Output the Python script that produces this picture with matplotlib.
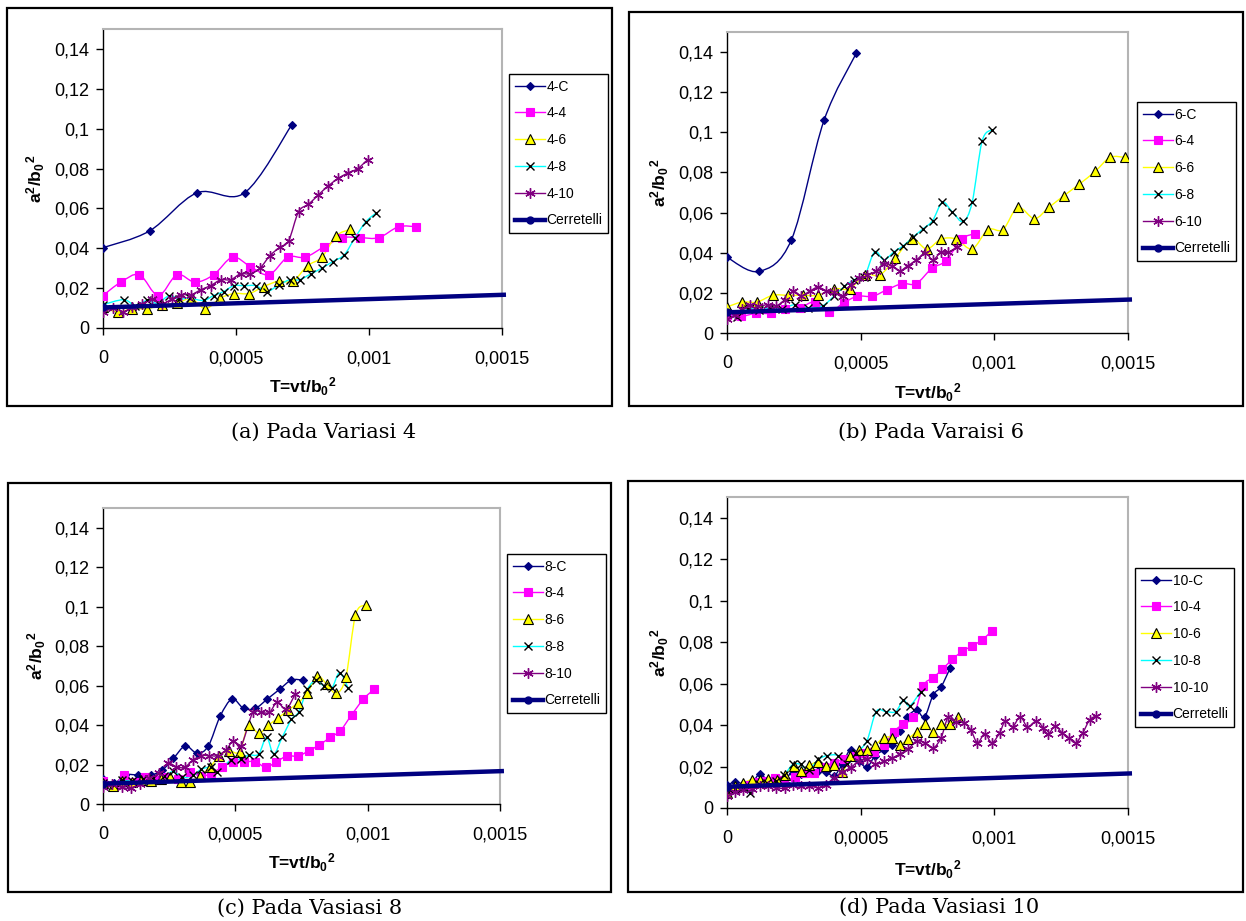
import matplotlib
matplotlib.use('Agg')
import matplotlib.pyplot as plt
from matplotlib.path import Path
from matplotlib.patches import PathPatch, Rectangle
from matplotlib.lines import Line2D

plt.rcParams['font.family'] = ['Liberation Sans', 'DejaVu Sans']
plt.rcParams['mathtext.fontset'] = 'custom'
plt.rcParams['mathtext.rm'] = 'Liberation Sans:bold'
plt.rcParams['mathtext.it'] = 'Liberation Sans:bold'
plt.rcParams['mathtext.bf'] = 'Liberation Sans:bold'

# ---- data (T = vt/b0^2, a^2/b0^2) ----
t_cer = [0, 0.0005, 0.001, 0.001515]
a_cer = [0.0103, 0.0124, 0.0145, 0.0167]

# variasi 4
t_4c = [0, 0.000175, 0.000353, 0.000532, 0.00071]
a_4c = [0.0403, 0.0487, 0.0678, 0.0678, 0.102]
t_44 = [0, 6.7e-5, 1.37e-4, 2.08e-4, 2.78e-4, 3.46e-4, 4.16e-4, 4.87e-4, 5.54e-4, 6.24e-4,
        6.94e-4, 7.6e-4, 8.32e-4, 9.0e-4, 9.68e-4, 1.037e-3, 1.111e-3, 1.178e-3]
a_44 = [0.0163, 0.023, 0.0267, 0.0163, 0.0267, 0.023, 0.0267, 0.0355, 0.0308, 0.0267,
        0.0355, 0.0355, 0.0408, 0.0453, 0.0453, 0.0453, 0.0508, 0.0508]
t_46 = [0, 5.6e-5, 1.1e-4, 1.66e-4, 2.2e-4, 2.78e-4, 3.32e-4, 3.85e-4, 4.41e-4, 4.94e-4,
        5.5e-4, 6.04e-4, 6.6e-4, 7.14e-4, 7.69e-4, 8.23e-4, 8.76e-4, 9.3e-4]
a_46 = [0.0105, 0.008, 0.0097, 0.0097, 0.0115, 0.0125, 0.0147, 0.0097, 0.015, 0.0173,
        0.0173, 0.0208, 0.0235, 0.0235, 0.0313, 0.0355, 0.0462, 0.0495]
t_48 = [0, 7.8e-5, 1.22e-4, 1.65e-4, 2.05e-4, 2.49e-4, 2.87e-4, 3.26e-4, 3.78e-4, 4.16e-4,
        4.54e-4, 4.91e-4, 5.31e-4, 5.75e-4, 6.16e-4, 6.6e-4, 7.02e-4, 7.39e-4, 7.82e-4,
        8.23e-4, 8.63e-4, 9.07e-4, 9.46e-4, 9.88e-4, 1.028e-3]
a_48 = [0.0117, 0.0142, 0.0112, 0.0138, 0.0125, 0.0162, 0.0145, 0.015, 0.0138, 0.0163,
        0.0183, 0.0212, 0.0212, 0.0212, 0.0183, 0.0215, 0.0242, 0.0242, 0.0272,
        0.03, 0.0333, 0.0367, 0.045, 0.0533, 0.0578]
t_410 = [0, 3.7e-5, 7.4e-5, 1.1e-4, 1.46e-4, 1.86e-4, 2.23e-4, 2.6e-4, 2.94e-4, 3.31e-4,
         3.68e-4, 4.05e-4, 4.43e-4, 4.8e-4, 5.17e-4, 5.52e-4, 5.9e-4, 6.27e-4, 6.64e-4,
         6.98e-4, 7.35e-4, 7.72e-4, 8.09e-4, 8.46e-4, 8.84e-4, 9.21e-4, 9.58e-4, 9.95e-4]
a_410 = [0.008, 0.010, 0.008, 0.0105, 0.0122, 0.0145, 0.0122, 0.0147, 0.0167, 0.0167,
         0.0192, 0.0213, 0.0242, 0.0242, 0.0272, 0.0272, 0.03, 0.0362, 0.0405,
         0.0438, 0.0583, 0.062, 0.0667, 0.0712, 0.075, 0.0778, 0.08, 0.0845]

# variasi 6
t_6c = [0, 0.00012, 0.000241, 0.000363, 0.000484]
a_6c = [0.0377, 0.0307, 0.0465, 0.106, 0.1395]
t_64 = [0, 5.2e-5, 1.09e-4, 1.63e-4, 2.16e-4, 2.72e-4, 3.28e-4, 3.81e-4, 4.36e-4, 4.88e-4,
        5.44e-4, 5.99e-4, 6.55e-4, 7.08e-4, 7.66e-4, 8.19e-4, 8.78e-4, 9.28e-4]
a_64 = [0.0088, 0.0083, 0.0098, 0.0098, 0.012, 0.0125, 0.0155, 0.0103, 0.015, 0.0183,
        0.0183, 0.0216, 0.0246, 0.0246, 0.0322, 0.036, 0.0468, 0.0495]
t_66 = [0, 5.6e-5, 1.12e-4, 1.71e-4, 2.27e-4, 2.85e-4, 3.41e-4, 4.0e-4, 4.59e-4, 5.15e-4,
        5.73e-4, 6.3e-4, 6.91e-4, 7.47e-4, 8.01e-4, 8.58e-4, 9.17e-4, 9.76e-4, 1.032e-3,
        1.088e-3, 1.15e-3, 1.204e-3, 1.26e-3, 1.318e-3, 1.377e-3, 1.433e-3, 1.489e-3]
a_66 = [0.013, 0.0154, 0.0154, 0.0188, 0.0188, 0.0188, 0.0188, 0.0221, 0.022, 0.029,
        0.029, 0.0374, 0.0468, 0.0419, 0.0468, 0.0468, 0.0419, 0.0515, 0.0515,
        0.0626, 0.057, 0.0626, 0.0684, 0.0742, 0.0805, 0.0875, 0.0875]
t_68 = [0, 3.7e-5, 8e-5, 1.2e-4, 1.6e-4, 2.05e-4, 2.53e-4, 3.03e-4, 3.58e-4, 4.02e-4,
        4.39e-4, 4.76e-4, 5.13e-4, 5.52e-4, 5.87e-4, 6.24e-4, 6.6e-4, 6.95e-4, 7.32e-4,
        7.69e-4, 8.06e-4, 8.43e-4, 8.83e-4, 9.17e-4, 9.54e-4, 9.9e-4]
a_68 = [0.01, 0.008, 0.012, 0.0115, 0.0125, 0.012, 0.0141, 0.0125, 0.0136, 0.0186,
        0.0232, 0.0266, 0.0279, 0.0404, 0.0365, 0.0404, 0.0435, 0.0477, 0.0518,
        0.056, 0.0651, 0.0603, 0.0556, 0.0651, 0.0955, 0.1013]
t_610 = [0, 3.1e-5, 5.6e-5, 8.7e-5, 1.17e-4, 1.52e-4, 1.85e-4, 2.16e-4, 2.47e-4, 2.78e-4,
         3.09e-4, 3.4e-4, 3.71e-4, 4.02e-4, 4.33e-4, 4.63e-4, 4.94e-4, 5.25e-4, 5.56e-4,
         5.87e-4, 6.18e-4, 6.46e-4, 6.76e-4, 7.07e-4, 7.42e-4, 7.7e-4, 8.0e-4, 8.28e-4, 8.59e-4]
a_610 = [0.007, 0.0091, 0.012, 0.0141, 0.0133, 0.0141, 0.0136, 0.0166, 0.0208, 0.0186,
         0.0208, 0.0228, 0.0211, 0.0203, 0.0183, 0.0241, 0.0274, 0.0291, 0.0307,
         0.0345, 0.0335, 0.031, 0.0335, 0.0362, 0.0398, 0.0365, 0.0402, 0.0402, 0.0428]

# variasi 8
t_8c = [0, 4.2e-5, 8.4e-5, 1.32e-4, 1.81e-4, 2.24e-4, 2.66e-4, 3.11e-4, 3.56e-4, 3.98e-4,
        4.43e-4, 4.88e-4, 5.31e-4, 5.76e-4, 6.21e-4, 6.67e-4, 7.12e-4, 7.55e-4]
a_8c = [0.0127, 0.0105, 0.0147, 0.0147, 0.0147, 0.0172, 0.0231, 0.0294, 0.0257, 0.0294,
        0.0446, 0.0532, 0.0485, 0.0485, 0.0532, 0.0581, 0.0628, 0.0628]
t_84 = [0, 4e-5, 8e-5, 1.2e-4, 1.6e-4, 2e-4, 2.4e-4, 2.85e-4, 3.3e-4, 3.7e-4, 4.09e-4,
        4.49e-4, 4.91e-4, 5.31e-4, 5.76e-4, 6.15e-4, 6.55e-4, 6.95e-4, 7.37e-4, 7.78e-4,
        8.17e-4, 8.59e-4, 8.97e-4, 9.39e-4, 9.84e-4, 1.024e-3]
a_84 = [0.0117, 0.009, 0.0145, 0.011, 0.0135, 0.012, 0.0135, 0.0125, 0.016, 0.014, 0.0155,
        0.0186, 0.0214, 0.0214, 0.0214, 0.0186, 0.0214, 0.0243, 0.0243, 0.027,
        0.0299, 0.0338, 0.0372, 0.0451, 0.0532, 0.0581]
t_86 = [0, 3.6e-5, 7.2e-5, 1.1e-4, 1.45e-4, 1.81e-4, 2.18e-4, 2.54e-4, 2.93e-4, 3.29e-4,
        3.66e-4, 4.04e-4, 4.38e-4, 4.76e-4, 5.16e-4, 5.5e-4, 5.88e-4, 6.25e-4, 6.63e-4,
        7.0e-4, 7.37e-4, 7.72e-4, 8.09e-4, 8.46e-4, 8.82e-4, 9.18e-4, 9.54e-4, 9.92e-4]
a_86 = [0.0105, 0.009, 0.0117, 0.011, 0.012, 0.0117, 0.0125, 0.0138, 0.0113, 0.0113,
        0.0142, 0.0186, 0.0243, 0.027, 0.0265, 0.04, 0.0358, 0.04, 0.0437,
        0.0476, 0.0513, 0.0561, 0.0649, 0.0606, 0.0561, 0.0645, 0.0958, 0.1008]
t_88 = [0, 4e-5, 7.2e-5, 1.1e-4, 1.5e-4, 1.9e-4, 2.3e-4, 2.66e-4, 3.0e-4, 3.41e-4,
        3.71e-4, 4.08e-4, 4.3e-4, 4.83e-4, 5.2e-4, 5.5e-4, 5.88e-4, 6.18e-4, 6.45e-4,
        6.77e-4, 7.12e-4, 7.4e-4, 7.72e-4, 8.05e-4, 8.34e-4, 8.64e-4, 8.94e-4, 9.27e-4]
a_88 = [0.0105, 0.0095, 0.0122, 0.0115, 0.0125, 0.013, 0.014, 0.0165, 0.0135, 0.0145,
        0.0176, 0.0186, 0.016, 0.0223, 0.0226, 0.0248, 0.0253, 0.0338, 0.0253,
        0.0338, 0.0429, 0.0468, 0.0581, 0.0628, 0.0598, 0.0586, 0.0665, 0.0586]
t_810 = [0, 3.5e-5, 7e-5, 1.05e-4, 1.4e-4, 1.75e-4, 2.1e-4, 2.45e-4, 2.77e-4, 3.08e-4,
         3.4e-4, 3.71e-4, 4.02e-4, 4.33e-4, 4.65e-4, 4.93e-4, 5.22e-4, 5.66e-4, 5.98e-4,
         6.29e-4, 6.58e-4, 6.92e-4, 7.26e-4]
a_810 = [0.0084, 0.01, 0.0084, 0.008, 0.01, 0.013, 0.0155, 0.0206, 0.0189, 0.0186,
         0.0223, 0.0245, 0.0245, 0.0245, 0.0274, 0.0321, 0.0296, 0.0464, 0.0464,
         0.0464, 0.0515, 0.0481, 0.0557]

# variasi 10
t_10c = [0, 3.1e-5, 6.1e-5, 9.3e-5, 1.23e-4, 1.54e-4, 1.85e-4, 2.16e-4, 2.47e-4, 2.78e-4,
         3.08e-4, 3.39e-4, 3.7e-4, 4.0e-4, 4.31e-4, 4.63e-4, 4.93e-4, 5.24e-4, 5.54e-4,
         5.86e-4, 6.16e-4, 6.46e-4, 6.75e-4, 7.09e-4, 7.39e-4, 7.71e-4, 8.01e-4, 8.34e-4]
a_10c = [0.011, 0.0126, 0.0115, 0.012, 0.0165, 0.013, 0.0135, 0.0145, 0.017, 0.0165,
         0.0172, 0.0178, 0.0175, 0.0155, 0.021, 0.0282, 0.0226, 0.0198, 0.0253,
         0.0279, 0.0306, 0.0371, 0.044, 0.0471, 0.044, 0.0545, 0.0585, 0.0673]
t_104 = [0, 3.7e-5, 7.4e-5, 1.1e-4, 1.45e-4, 1.79e-4, 2.15e-4, 2.53e-4, 2.9e-4, 3.27e-4,
         3.64e-4, 4.01e-4, 4.38e-4, 4.75e-4, 5.12e-4, 5.49e-4, 5.86e-4, 6.23e-4, 6.6e-4,
         6.97e-4, 7.34e-4, 7.71e-4, 8.06e-4, 8.43e-4, 8.8e-4, 9.17e-4, 9.54e-4, 9.91e-4]
a_104 = [0.0075, 0.0095, 0.011, 0.0125, 0.013, 0.0145, 0.0135, 0.0148, 0.0169, 0.0169,
         0.02, 0.0218, 0.0235, 0.025, 0.0265, 0.027, 0.0302, 0.0368, 0.0406,
         0.044, 0.0589, 0.0629, 0.0669, 0.0718, 0.0755, 0.0782, 0.081, 0.0855]
t_106 = [0, 3.1e-5, 6.1e-5, 9.3e-5, 1.23e-4, 1.54e-4, 1.87e-4, 2.16e-4, 2.49e-4, 2.75e-4,
         3.08e-4, 3.39e-4, 3.69e-4, 4.01e-4, 4.31e-4, 4.61e-4, 4.93e-4, 5.24e-4, 5.54e-4,
         5.86e-4, 6.16e-4, 6.46e-4, 6.78e-4, 7.09e-4, 7.39e-4, 7.71e-4, 8.01e-4, 8.34e-4, 8.65e-4]
a_106 = [0.0073, 0.0105, 0.0121, 0.0137, 0.0134, 0.014, 0.0134, 0.0161, 0.0202, 0.0177,
         0.0205, 0.0221, 0.0202, 0.0205, 0.0174, 0.025, 0.0279, 0.0279, 0.0303,
         0.0339, 0.0339, 0.0306, 0.0335, 0.0368, 0.0403, 0.0368, 0.0403, 0.0403, 0.0439]
t_108 = [0, 3e-5, 6e-5, 8.7e-5, 1.2e-4, 1.5e-4, 1.85e-4, 2.15e-4, 2.46e-4, 2.75e-4,
         3.05e-4, 3.42e-4, 3.75e-4, 4.16e-4, 4.49e-4, 4.83e-4, 5.23e-4, 5.58e-4, 5.94e-4,
         6.31e-4, 6.6e-4, 6.83e-4, 7.24e-4]
a_108 = [0.0076, 0.009, 0.0095, 0.0073, 0.0115, 0.012, 0.013, 0.016, 0.021, 0.021,
         0.0185, 0.0234, 0.0253, 0.0253, 0.021, 0.0265, 0.0323, 0.0465, 0.0465,
         0.0465, 0.0521, 0.0492, 0.056]
t_1010 = [0, 3.1e-5, 6.1e-5, 9.3e-5, 1.23e-4, 1.54e-4, 1.85e-4, 2.16e-4, 2.47e-4, 2.78e-4,
          3.08e-4, 3.39e-4, 3.7e-4, 4.0e-4, 4.31e-4, 4.62e-4, 4.93e-4, 5.24e-4, 5.54e-4,
          5.86e-4, 6.16e-4, 6.46e-4, 6.78e-4, 7.09e-4, 7.39e-4, 7.71e-4, 8.01e-4, 8.28e-4,
          8.57e-4, 8.87e-4, 9.12e-4, 9.37e-4, 9.64e-4, 9.91e-4, 1.02e-3, 1.041e-3, 1.068e-3,
          1.097e-3, 1.124e-3, 1.157e-3, 1.183e-3, 1.2e-3, 1.228e-3, 1.253e-3, 1.278e-3,
          1.305e-3, 1.331e-3, 1.356e-3, 1.379e-3]
a_1010 = [0.0058, 0.0075, 0.0085, 0.009, 0.0105, 0.0108, 0.0098, 0.0095, 0.011, 0.0105,
          0.0108, 0.0098, 0.011, 0.0145, 0.0172, 0.0195, 0.0225, 0.0235, 0.021,
          0.0225, 0.024, 0.026, 0.0285, 0.0323, 0.0315, 0.029, 0.0339, 0.044,
          0.0416, 0.0411, 0.0376, 0.0315, 0.0358, 0.0315, 0.0363, 0.0419, 0.0392,
          0.044, 0.0392, 0.0419, 0.0387, 0.0355, 0.0395, 0.0363, 0.0339,
          0.0315, 0.0363, 0.0424, 0.0444]

x_ticks = [0, 0.0005, 0.001, 0.0015]
x_ticklabels = ['0', '0,0005', '0,001', '0,0015']
y_ticks = [0, 0.02, 0.04, 0.06, 0.08, 0.1, 0.12, 0.14]
y_ticklabels = ['0', '0,02', '0,04', '0,06', '0,08', '0,1', '0,12', '0,14']

captions = ['(a) Pada Variasi 4', '(b) Pada Varaisi 6', '(c) Pada Vasiasi 8', '(d) Pada Vasiasi 10']

# styles per series kind: C, 4, 6, 8, 10
styles = [
    dict(line='#000080', marker='D', mfc='#000080', mec='#000080', ms=4.5, mew=0.8),
    dict(line='#FF00FF', marker='s', mfc='#FF00FF', mec='#FF00FF', ms=5.5, mew=0.8),
    dict(line='#FFFF00', marker='^', mfc='#FFFF00', mec='black', ms=6.5, mew=0.8),
    dict(line='#00FFFF', marker='x', mfc='none', mec='black', ms=6, mew=1.0),
    dict(line='#800080', marker=(6, 2, 0), mfc='none', mec='#800080', ms=7.5, mew=1.0),
]

W, H = 1246, 921


def smooth_line(ax, t, a, color):
    # excel style smoothed line (bezier through the points)
    n = len(t)
    verts = [(t[0], a[0])]
    codes = [Path.MOVETO]
    for i in range(n - 1):
        i0, i3 = max(i - 1, 0), min(i + 2, n - 1)
        c1 = (t[i] + (t[i + 1] - t[i0]) / 6, a[i] + (a[i + 1] - a[i0]) / 6)
        c2 = (t[i + 1] - (t[i3] - t[i]) / 6, a[i + 1] - (a[i3] - a[i]) / 6)
        verts += [c1, c2, (t[i + 1], a[i + 1])]
        codes += [Path.CURVE4] * 3
    ax.add_patch(PathPatch(Path(verts, codes), fill=False, edgecolor=color, lw=1.0, zorder=2))


def fr(x0, y0, x1, y1):
    return [x0 / W, 1 - y1 / H, (x1 - x0) / W, (y1 - y0) / H]


fig = plt.figure(figsize=(W / 100, H / 100), dpi=100)
fig.patch.set_facecolor('white')

# pixel layout: frame, axes, legend corner, caption centre
panels = [
    dict(frame=(7, 8, 612, 406), ax=(103, 29, 502, 328), leg=(509, 74), cap=(324, 432),
         series=[(t_4c, a_4c), (t_44, a_44), (t_46, a_46), (t_48, a_48), (t_410, a_410)], pre='4'),
    dict(frame=(629, 12, 1243, 406), ax=(727, 32, 1128, 333), leg=(1137, 102), cap=(931, 432),
         series=[(t_6c, a_6c), (t_64, a_64), (t_66, a_66), (t_68, a_68), (t_610, a_610)], pre='6'),
    dict(frame=(8, 483, 611, 892), ax=(103, 508, 500, 804), leg=(507, 554), cap=(310, 908),
         series=[(t_8c, a_8c), (t_84, a_84), (t_86, a_86), (t_88, a_88), (t_810, a_810)], pre='8'),
    dict(frame=(628, 481, 1243, 892), ax=(727, 497, 1128, 808), leg=(1135, 568), cap=(939, 907),
         series=[(t_10c, a_10c), (t_104, a_104), (t_106, a_106), (t_108, a_108), (t_1010, a_1010)], pre='10'),
]
suffix = ['C', '4', '6', '8', '10']

for k, p in enumerate(panels):
    x0, y0, x1, y1 = p['frame']
    fig.add_artist(Rectangle((x0 / W, 1 - y1 / H), (x1 - x0) / W, (y1 - y0) / H,
                             transform=fig.transFigure, fill=False, ec='black', lw=1.6))
    ax = fig.add_axes(fr(*p['ax']))
    handles = []
    for (t, a), st, sfx in zip(p['series'], styles, suffix):
        smooth_line(ax, t, a, st['line'])
        ax.plot(t, a, linestyle='none', marker=st['marker'], mfc=st['mfc'], mec=st['mec'],
                ms=st['ms'], mew=st['mew'], zorder=3)
        handles.append(Line2D([], [], color=st['line'], lw=1.0, marker=st['marker'], mfc=st['mfc'],
                              mec=st['mec'], ms=st['ms'], mew=st['mew'], label=p['pre'] + '-' + sfx))
    ax.plot(t_cer, a_cer, color='#000080', lw=3.2, solid_capstyle='butt', clip_on=False, zorder=4)
    ax.plot([t_cer[0]], [a_cer[0]], 'o', color='#000080', ms=5, zorder=4)
    handles.append(Line2D([], [], color='#000080', lw=3.2, marker='o', ms=5, label='Cerretelli'))

    ax.set_xlim(0, 0.0015)
    ax.set_ylim(0, 0.15)
    ax.set_xticks(x_ticks)
    ax.set_xticklabels(x_ticklabels)
    ax.set_yticks(y_ticks)
    ax.set_yticklabels(y_ticklabels)
    ax.tick_params(direction='out', length=5, width=1, labelsize=13, colors='black')
    ax.tick_params(axis='x', pad=11)
    ax.tick_params(axis='y', pad=5)
    for s in ['top', 'right']:
        ax.spines[s].set_color('#b4b4b4')
        ax.spines[s].set_linewidth(1.5)
    for s in ['left', 'bottom']:
        ax.spines[s].set_color('black')
        ax.spines[s].set_linewidth(1.0)

    ax.set_xlabel(r'T=vt/b$_0$$^2$', fontsize=12.5, fontweight='bold')
    ax.xaxis.set_label_coords(0.5, -0.197)
    ax.xaxis.label.set_va('center')
    ax.set_ylabel(r'a$^2$/b$_0$$^2$', fontsize=12.5, fontweight='bold')
    ax.yaxis.set_label_coords(-0.168, 0.5)
    ax.yaxis.label.set_va('center')

    lx, ly = p['leg']
    leg = ax.legend(handles=handles, loc='upper left', bbox_to_anchor=(lx / W, 1 - ly / H),
                    bbox_transform=fig.transFigure, fontsize=10, frameon=True, fancybox=False,
                    edgecolor='black', framealpha=1, borderaxespad=0, borderpad=0.4,
                    handlelength=2.2, handletextpad=0.1, labelspacing=0.92)
    leg.get_frame().set_linewidth(1.0)

    cx, cy = p['cap']
    fig.text(cx / W, 1 - cy / H, captions[k], ha='center', va='center',
             family='DejaVu Serif', fontsize=15)

fig.savefig('out.png', dpi=100, facecolor='white')
